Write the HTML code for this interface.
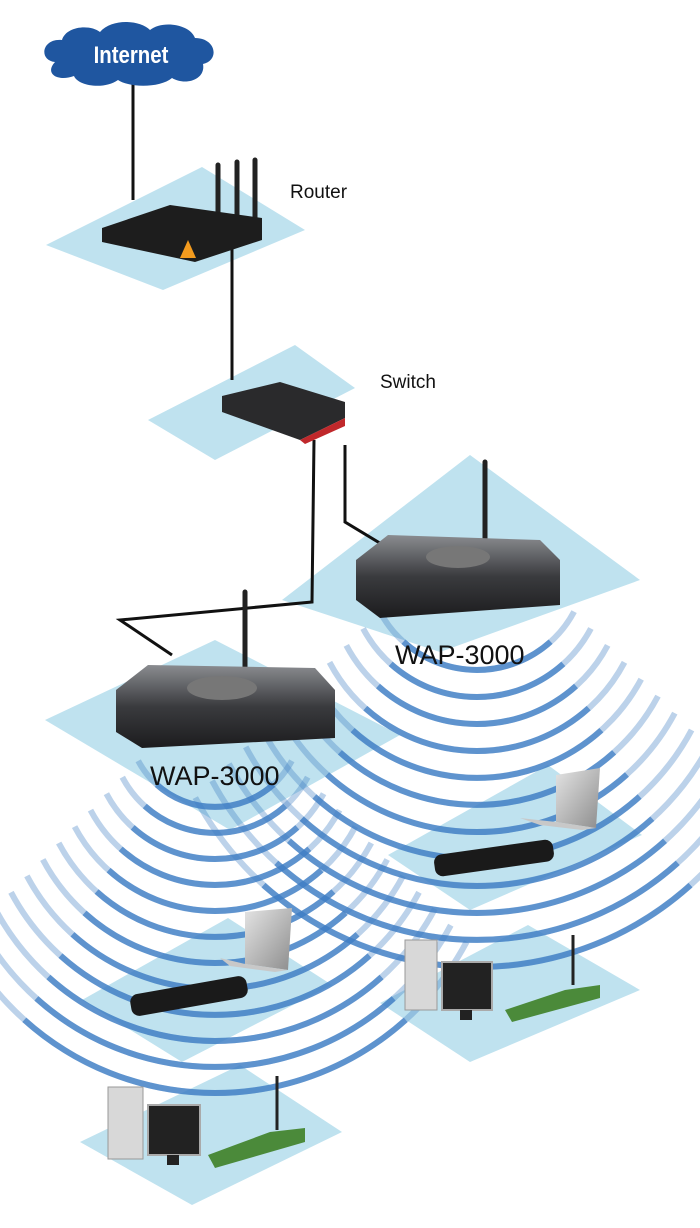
<!DOCTYPE html>
<html><head><style>html,body{margin:0;padding:0;background:#fff}svg{display:block}</style></head><body>
<svg width="700" height="1228" viewBox="0 0 700 1228" xmlns="http://www.w3.org/2000/svg">
<defs>
<linearGradient id="dev" x1="0" y1="0" x2="0" y2="1"><stop offset="0" stop-color="#8a8c90"/><stop offset="0.5" stop-color="#3a3b3e"/><stop offset="1" stop-color="#1c1c1e"/></linearGradient>
<linearGradient id="lap" x1="0" y1="0" x2="1" y2="1"><stop offset="0" stop-color="#e4e4e4"/><stop offset="1" stop-color="#8d8d8d"/></linearGradient>
</defs>
<g fill="#bfe2ef">
<polygon points="46,245 202,167 305,230 163,290"/>
<polygon points="148,420 295,345 355,388 215,460"/>
<polygon points="282,600 470,455 640,580 440,652"/>
<polygon points="45,720 215,640 400,735 230,830"/>
<polygon points="388,855 548,765 642,835 470,910"/>
<polygon points="82,1000 228,918 332,985 182,1062"/>
<polygon points="380,1003 528,925 640,990 470,1062"/>
<polygon points="80,1142 240,1065 342,1132 192,1205"/>
</g>
<g fill="none" stroke="#3f7dc4" stroke-width="6" stroke-opacity="0.35">
<path d="M138.2,760.8 A87,87 0 0 0 291.8,760.8"/>
<path d="M122.3,777.2 A105,105 0 0 0 307.7,777.2"/>
<path d="M106.4,793.7 A123,123 0 0 0 323.6,793.7"/>
<path d="M90.5,810.1 A141,141 0 0 0 339.5,810.1"/>
<path d="M74.6,826.6 A159,159 0 0 0 355.4,826.6"/>
<path d="M58.7,843 A177,177 0 0 0 371.3,843"/>
<path d="M42.8,859.5 A195,195 0 0 0 387.2,859.5"/>
<path d="M26.9,875.9 A213,213 0 0 0 403.1,875.9"/>
<path d="M11,892.3 A231,231 0 0 0 419,892.3"/>
<path d="M-4.9,908.8 A249,249 0 0 0 434.9,908.8"/>
<path d="M-20.8,925.2 A267,267 0 0 0 450.8,925.2"/>
<path d="M-36.7,941.7 A285,285 0 0 0 466.7,941.7"/>
<path d="M379.9,611.6 A110,110 0 0 0 574.1,611.6"/>
<path d="M363.1,628.5 A129,129 0 0 0 590.9,628.5"/>
<path d="M346.3,645.4 A148,148 0 0 0 607.7,645.4"/>
<path d="M329.5,662.3 A167,167 0 0 0 624.5,662.3"/>
<path d="M312.8,679.2 A186,186 0 0 0 641.2,679.2"/>
<path d="M296,696.1 A205,205 0 0 0 658,696.1"/>
<path d="M279.2,713.1 A224,224 0 0 0 674.8,713.1"/>
<path d="M262.4,730 A243,243 0 0 0 691.6,730"/>
<path d="M245.7,746.9 A262,262 0 0 0 708.3,746.9"/>
<path d="M228.9,763.8 A281,281 0 0 0 725.1,763.8"/>
<path d="M212.1,780.7 A300,300 0 0 0 741.9,780.7"/>
<path d="M195.3,797.6 A319,319 0 0 0 758.7,797.6"/>
</g>
<g fill="none" stroke="#3f7dc4" stroke-width="6" stroke-opacity="0.75">
<path d="M156.8,784.6 A87,87 0 0 0 273.2,784.6"/>
<path d="M144.8,806 A105,105 0 0 0 285.2,806"/>
<path d="M132.7,827.4 A123,123 0 0 0 297.3,827.4"/>
<path d="M120.7,848.8 A141,141 0 0 0 309.3,848.8"/>
<path d="M108.6,870.1 A159,159 0 0 0 321.4,870.1"/>
<path d="M96.6,891.5 A177,177 0 0 0 333.4,891.5"/>
<path d="M84.5,912.9 A195,195 0 0 0 345.5,912.9"/>
<path d="M72.5,934.3 A213,213 0 0 0 357.5,934.3"/>
<path d="M60.5,955.6 A231,231 0 0 0 369.5,955.6"/>
<path d="M48.4,977 A249,249 0 0 0 381.6,977"/>
<path d="M36.4,998.4 A267,267 0 0 0 393.6,998.4"/>
<path d="M24.3,1019.8 A285,285 0 0 0 405.7,1019.8"/>
<path d="M403.4,641.7 A110,110 0 0 0 550.6,641.7"/>
<path d="M390.7,663.9 A129,129 0 0 0 563.3,663.9"/>
<path d="M378,686 A148,148 0 0 0 576,686"/>
<path d="M365.3,708.1 A167,167 0 0 0 588.7,708.1"/>
<path d="M352.6,730.2 A186,186 0 0 0 601.4,730.2"/>
<path d="M339.9,752.3 A205,205 0 0 0 614.1,752.3"/>
<path d="M327.1,774.5 A224,224 0 0 0 626.9,774.5"/>
<path d="M314.4,796.5 A243,243 0 0 0 639.6,796.5"/>
<path d="M301.7,818.7 A262,262 0 0 0 652.3,818.7"/>
<path d="M289,840.8 A281,281 0 0 0 665,840.8"/>
<path d="M276.3,862.9 A300,300 0 0 0 677.7,862.9"/>
<path d="M263.5,885.1 A319,319 0 0 0 690.5,885.1"/>
</g>
<g stroke="#111" stroke-width="3" fill="none">
<line x1="133" y1="80" x2="133" y2="200"/>
<line x1="232" y1="245" x2="232" y2="380"/>
<polyline points="314,440 312,602 120,620 172,655"/>
<polyline points="345,445 345,522 388,548"/>
</g>
<path d="M55,62 C38,60 42,38 62,40 C66,26 90,24 100,32 C112,18 140,20 150,30 C162,20 190,24 195,38 C216,38 220,60 203,64 C206,80 185,86 172,78 C160,88 130,88 118,80 C104,90 78,86 74,76 C58,82 44,74 55,62 Z" fill="#1f56a0"/>
<text x="131" y="63" text-anchor="middle" font-family="Liberation Sans, sans-serif" font-weight="bold" font-size="24" fill="#fff" transform="translate(131 0) scale(0.85 1) translate(-131 0)">Internet</text>
<g stroke="#222" stroke-width="5" stroke-linecap="round"><line x1="218" y1="165" x2="218" y2="240"/><line x1="237" y1="162" x2="237" y2="245"/><line x1="255" y1="160" x2="255" y2="238"/></g>
<polygon points="102,228 170,205 262,218 262,240 195,262 102,242" fill="#1d1d1d"/>
<polygon points="180,258 188,240 196,258" fill="#f39b1e"/>
<text x="290" y="198" font-family="Liberation Sans, sans-serif" font-size="19" fill="#111">Router</text>
<polygon points="222,396 280,382 345,402 345,418 300,440 222,412" fill="#2a2a2c"/>
<polygon points="300,440 345,418 345,426 305,444" fill="#c0282b"/>
<text x="380" y="388" font-family="Liberation Sans, sans-serif" font-size="19" fill="#111">Switch</text>
<line x1="485" y1="462" x2="485" y2="545" stroke="#222" stroke-width="5" stroke-linecap="round"/>
<path d="M356,560 L388,535 L540,540 L560,560 L560,605 L380,618 L356,600 Z" fill="url(#dev)"/>
<ellipse cx="458" cy="557" rx="32" ry="11" fill="#777"/>
<text x="395" y="664" font-family="Liberation Sans, sans-serif" font-size="27" fill="#111">WAP-3000</text>
<line x1="245" y1="592" x2="245" y2="675" stroke="#222" stroke-width="5" stroke-linecap="round"/>
<path d="M116,690 L148,665 L315,668 L335,690 L335,738 L142,748 L116,732 Z" fill="url(#dev)"/>
<ellipse cx="222" cy="688" rx="35" ry="12" fill="#777"/>
<text x="150" y="785" font-family="Liberation Sans, sans-serif" font-size="27" fill="#111">WAP-3000</text>
<polygon points="556,775 600,768 596,828 556,822" fill="url(#lap)"/>
<polygon points="520,818 556,822 596,828 582,830 540,825" fill="#c8c8c8"/>
<rect x="434" y="847" width="120" height="22" rx="8" transform="rotate(-8 494 858)" fill="#1a1a1a"/>
<polygon points="245,912 292,908 288,970 245,964" fill="url(#lap)"/>
<polygon points="220,958 245,964 288,970 275,972 230,966" fill="#c8c8c8"/>
<rect x="130" y="985" width="118" height="22" rx="8" transform="rotate(-10 189 996)" fill="#1a1a1a"/>
<rect x="405" y="940" width="32" height="70" fill="#d8d8d8" stroke="#999"/>
<rect x="442" y="962" width="50" height="48" fill="#222" stroke="#aaa" stroke-width="2"/>
<rect x="460" y="1010" width="12" height="10" fill="#222"/>
<line x1="573" y1="935" x2="573" y2="985" stroke="#222" stroke-width="3"/>
<polygon points="505,1010 565,990 600,985 600,998 512,1022" fill="#4b8a3a"/>
<rect x="108" y="1087" width="35" height="72" fill="#d8d8d8" stroke="#999"/>
<rect x="148" y="1105" width="52" height="50" fill="#222" stroke="#aaa" stroke-width="2"/>
<rect x="167" y="1155" width="12" height="10" fill="#222"/>
<line x1="277" y1="1076" x2="277" y2="1130" stroke="#222" stroke-width="3"/>
<polygon points="208,1155 270,1132 305,1128 305,1142 215,1168" fill="#4b8a3a"/>
</svg>
</body></html>
